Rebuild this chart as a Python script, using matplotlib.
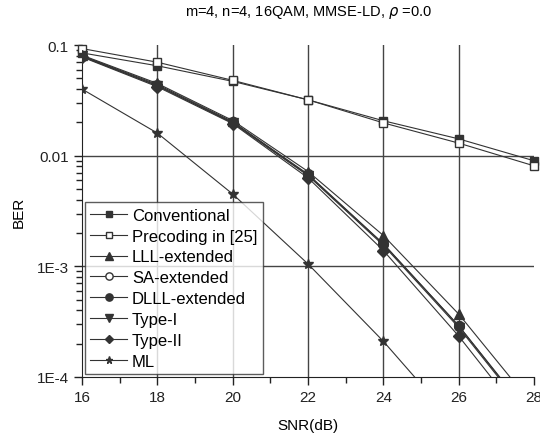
import matplotlib
matplotlib.use("Agg")
import matplotlib.pyplot as plt
from matplotlib.ticker import FixedLocator, LogLocator, NullFormatter

plt.rcParams['font.family'] = ['Liberation Sans', 'DejaVu Sans']

snr = [16, 18, 20, 22, 24, 26, 28]
conventional = [0.085, 0.065, 0.047, 0.032, 0.0207, 0.0142, 0.0090]
precoding = [0.093, 0.070, 0.048, 0.032, 0.0198, 0.0130, 0.0081]
lll_ext = [0.081, 0.045, 0.0208, 0.0072, 0.0019, 0.00037, 0.000054]
sa_ext = [0.080, 0.044, 0.0203, 0.0068, 0.00160, 0.00029, 0.000041]
dlll_ext = [0.079, 0.043, 0.0200, 0.0067, 0.00159, 0.00029, 0.000040]
type1 = [0.079, 0.043, 0.0198, 0.0066, 0.00155, 0.00028, 0.000039]
type2 = [0.078, 0.042, 0.0195, 0.0063, 0.00139, 0.000234, 0.000032]
ml_snr = [16, 18, 20, 22, 24, 26]
ml = [0.040, 0.016, 0.0045, 0.00105, 0.00021, 0.000035]

fig, ax = plt.subplots(figsize=(5.4, 4.39), dpi=100)
fig.subplots_adjust(left=0.152, right=0.989, top=0.895, bottom=0.139)

c = '#333333'
ax.plot(snr, conventional, '-s', color=c, lw=0.8, ms=6, mfc=c, label='Conventional', clip_on=False, zorder=3)
ax.plot(snr, precoding, '-s', color=c, lw=0.8, ms=6, mfc='white', label='Precoding in [25]', clip_on=False, zorder=3)
ax.plot(snr, lll_ext, '-^', color=c, lw=0.8, ms=7, mfc=c, label='LLL-extended', zorder=3)
ax.plot(snr, sa_ext, '-o', color=c, lw=0.8, ms=7, mfc='white', label='SA-extended', zorder=3)
ax.plot(snr, dlll_ext, '-o', color=c, lw=0.8, ms=7, mfc=c, label='DLLL-extended', zorder=3)
ax.plot(snr, type1, '-v', color=c, lw=0.8, ms=7, mfc=c, label='Type-I', zorder=3)
ax.plot(snr, type2, '-D', color=c, lw=0.8, ms=6, mfc=c, label='Type-II', zorder=3)
ax.plot(ml_snr, ml, '-*', color=c, lw=0.8, ms=7, mfc=c, label='ML', zorder=3)

ax.set_yscale('log')
ax.set_xlim(16, 28)
ax.set_ylim(1e-4, 0.1)
ax.xaxis.set_major_locator(FixedLocator([16, 18, 20, 22, 24, 26, 28]))
ax.xaxis.set_minor_locator(FixedLocator([17, 19, 21, 23, 25, 27]))
ax.yaxis.set_major_locator(FixedLocator([1e-4, 1e-3, 1e-2, 1e-1]))
ax.set_yticklabels(['1E-4', '1E-3', '0.01', '0.1'])
ax.yaxis.set_minor_locator(LogLocator(base=10, subs=range(2, 10)))
ax.yaxis.set_minor_formatter(NullFormatter())
ax.tick_params(which='both', direction='out', colors='#222222', labelsize=11)
ax.tick_params(which='major', length=6, width=1)
ax.tick_params(which='minor', length=4, width=1)

for x in [18, 20, 22, 24, 26]:
    ax.axvline(x, color='#444444', lw=1, zorder=1)
for y in [1e-2, 1e-3]:
    ax.axhline(y, color='#444444', lw=1, zorder=1)

ax.spines['top'].set_visible(False)
ax.spines['right'].set_visible(False)
ax.spines['left'].set_color('#222222')
ax.spines['bottom'].set_color('#222222')

ax.set_title(r'm=4, n=4, 16QAM, MMSE-LD, $\rho$ =0.0', fontsize=10.5, pad=22)
ax.set_xlabel('SNR(dB)', fontsize=11, labelpad=10)
ax.set_ylabel('BER', fontsize=11, labelpad=8)

leg = ax.legend(loc='lower left', fontsize=12, frameon=True, fancybox=False,
                edgecolor='#333333', handlelength=2.2, borderaxespad=0.15,
                labelspacing=0.35, handletextpad=0.3, borderpad=0.35,
                markerscale=0.75)
leg.get_frame().set_linewidth(1)

plt.savefig('out.png', dpi=100)
